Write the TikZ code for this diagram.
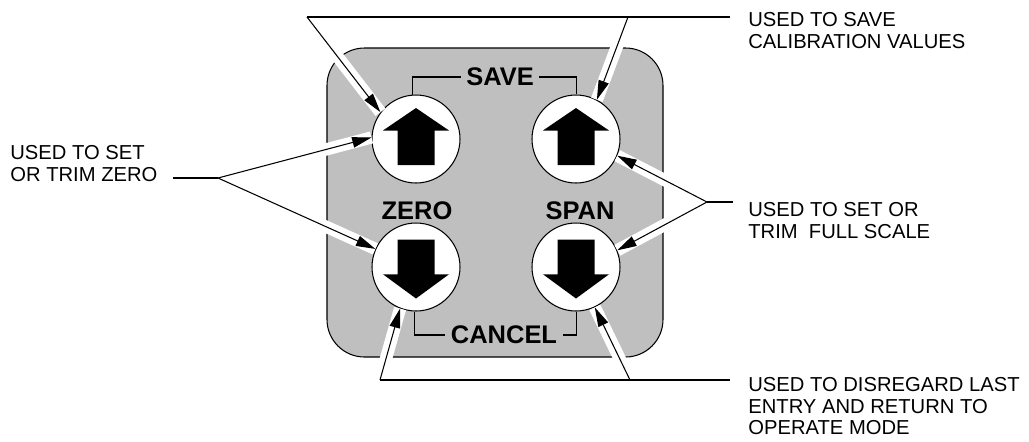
\documentclass[tikz,border=0pt]{standalone}
\usepackage{fontspec}
\setmainfont{Liberation Sans}
\usetikzlibrary{arrows.meta}
\tikzset{
    key/.style={
    circle,draw=black,fill=white,line width=0.6pt,minimum size=1.76cm,inner sep=0pt
    },
    keyname/.style={
    font=\fontsize{14.5}{16}\selectfont\bfseries,inner sep=0pt,inner xsep=3pt
    },
    note/.style={
    font=\fontsize{11.5}{12.3}\selectfont,align=left,anchor=north west,inner sep=0pt
    },
    lead/.style={
    line width=0.6pt,-{Triangle[length=11pt,width=6pt]}
    },
    halo/.style={
    draw=white,line width=7pt
    },
}

\begin{document}
\begin{tikzpicture}[x=0.02cm,y=-0.02cm]
   \useasboundingbox (0,0) rectangle (1029,441);
   % panel
   \draw[fill=black!25,line width=0.6pt,rounded corners=0.75cm] (327,48) rectangle (663,357);

   % keys
   \node[key] (ul) at (416,139) {};
   \node[key] (ur) at (576,139) {};
   \node[key] (dl) at (416,267) {};
   \node[key] (dr) at (576,267) {};
   \foreach \k in {ul,ur}
     \fill[shift={(\k.center)}] (0,-31) -- (33,-8.5) -- (18.5,-8.5) -- (18.5,26)
       -- (-18.5,26) -- (-18.5,-8.5) -- (-33,-8.5) -- cycle;
   \foreach \k in {dl,dr}
     \fill[shift={(\k.center)}] (0,31.5) -- (33,7.3) -- (18.5,7.3) -- (18.5,-27.4)
       -- (-18.5,-27.4) -- (-18.5,7.3) -- (-33,7.3) -- cycle;

   % key names
   \node[keyname] (save) at (500,77) {SAVE};
   \node[keyname] (zero) at (417,211) {ZERO};
   \node[keyname] (span) at (580,211) {SPAN};
   \node[keyname] (cancel) at (504,335) {CANCEL};

   % notes
   \node[note] (tsave) at (748,12) {USED TO SAVE\\CALIBRATION VALUES};
   \node[note] (tzero) at (10,145) {USED TO SET\\OR TRIM ZERO};
   \node[note] (tspan) at (748,202) {USED TO SET OR\\TRIM~~FULL SCALE};
   \node[note] (tcancel) at (748,377) {USED TO DISREGARD LAST\\ENTRY AND RETURN TO\\OPERATE MODE};

   % leader points
   \coordinate (sv1) at (307,17);
   \coordinate (sv2) at (628,17);
   \coordinate (sv3) at (730,17);
   \coordinate (z1) at (173,178);
   \coordinate (z2) at (218,178);
   \coordinate (sp1) at (707,202);
   \coordinate (sp2) at (733,202);
   \coordinate (cn1) at (380,380);
   \coordinate (cn2) at (630,380);
   \coordinate (cn3) at (730,380);

   \path[halo]
     (sv1) -- (ul.143)  (sv2) -- (ur.62)
     (z2) -- (ul.178)   (z2) -- (dl.156)
     (sp1) -- (ur.-22)  (sp1) -- (dr.22)
     (cn1) -- (dl.249)  (cn2) -- (dr.-65);

   % brackets
   \draw[line width=0.7pt] (ul.95) |- (save.west);
   \draw[line width=0.7pt] (ur.89) |- (save.east);
   \draw[line width=0.7pt] (dl.268) |- (cancel.west);
   \draw[line width=0.7pt] (dr.271) |- (cancel.east);

   % leaders
   \draw[line width=0.6pt] (sv1) -- (sv3);
   \draw[line width=0.6pt] (z1) -- (z2);
   \draw[line width=0.6pt] (sp1) -- (sp2);
   \draw[line width=0.6pt] (cn1) -- (cn3);
   \path[lead]
     (sv1) edge (ul.143)
     (sv2) edge (ur.62)
     (z2)  edge (ul.178)
           edge (dl.156)
     (sp1) edge (ur.-22)
           edge (dr.22)
     (cn1) edge (dl.249)
     (cn2) edge (dr.-65);
\end{tikzpicture}
\end{document}
